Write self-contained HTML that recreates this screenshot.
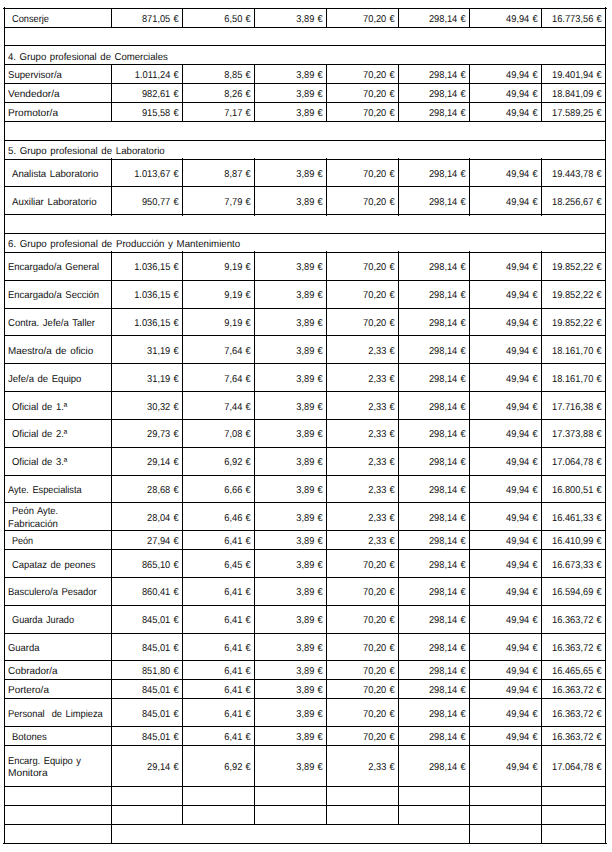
<!DOCTYPE html>
<html lang="es"><head><meta charset="utf-8"><title>Tabla salarial</title>
<style>
html,body{margin:0;padding:0;background:#fff;}
body{width:612px;height:852px;position:relative;overflow:hidden;font-family:"Liberation Sans",sans-serif;font-size:10.0px;color:#101010;text-rendering:geometricPrecision;}
.h,.v{position:absolute;background:#000;}
.h{height:1px;}
.v{width:1px;}
.t{position:absolute;white-space:pre;word-spacing:1px;line-height:12px;height:12px;transform-origin:0 50%;}
.r{text-align:right;word-spacing:0.7px;transform-origin:100% 50%;transform:scaleX(0.928);}
</style></head><body>

<div class="h" style="left:3px;top:8px;width:604px"></div>
<div class="h" style="left:4px;top:27px;width:602px"></div>
<div class="h" style="left:4px;top:45px;width:602px"></div>
<div class="h" style="left:4px;top:64px;width:602px"></div>
<div class="h" style="left:4px;top:83px;width:602px"></div>
<div class="h" style="left:4px;top:102px;width:602px"></div>
<div class="h" style="left:4px;top:121px;width:602px"></div>
<div class="h" style="left:4px;top:140px;width:602px"></div>
<div class="h" style="left:4px;top:159px;width:602px"></div>
<div class="h" style="left:4px;top:186px;width:602px"></div>
<div class="h" style="left:4px;top:214px;width:602px"></div>
<div class="h" style="left:4px;top:233px;width:602px"></div>
<div class="h" style="left:4px;top:252px;width:602px"></div>
<div class="h" style="left:4px;top:280px;width:602px"></div>
<div class="h" style="left:4px;top:308px;width:602px"></div>
<div class="h" style="left:4px;top:335px;width:602px"></div>
<div class="h" style="left:4px;top:363px;width:602px"></div>
<div class="h" style="left:4px;top:391px;width:602px"></div>
<div class="h" style="left:4px;top:419px;width:602px"></div>
<div class="h" style="left:4px;top:447px;width:602px"></div>
<div class="h" style="left:4px;top:475px;width:602px"></div>
<div class="h" style="left:4px;top:502px;width:602px"></div>
<div class="h" style="left:4px;top:530px;width:602px"></div>
<div class="h" style="left:4px;top:549px;width:602px"></div>
<div class="h" style="left:4px;top:577px;width:602px"></div>
<div class="h" style="left:4px;top:605px;width:602px"></div>
<div class="h" style="left:4px;top:633px;width:602px"></div>
<div class="h" style="left:4px;top:660px;width:602px"></div>
<div class="h" style="left:4px;top:679px;width:602px"></div>
<div class="h" style="left:4px;top:698px;width:602px"></div>
<div class="h" style="left:4px;top:726px;width:602px"></div>
<div class="h" style="left:4px;top:745px;width:602px"></div>
<div class="h" style="left:4px;top:786px;width:602px"></div>
<div class="h" style="left:4px;top:805px;width:602px"></div>
<div class="h" style="left:4px;top:824px;width:602px"></div>
<div class="h" style="left:3px;top:843px;width:604px"></div>
<div class="v" style="left:4px;top:7px;height:837px"></div>
<div class="v" style="left:605px;top:7px;height:837px"></div>
<div class="v" style="left:111px;top:8px;height:20px"></div>
<div class="v" style="left:111px;top:64px;height:58px"></div>
<div class="v" style="left:111px;top:158px;height:58px"></div>
<div class="v" style="left:111px;top:251px;height:593px"></div>
<div class="v" style="left:182px;top:8px;height:20px"></div>
<div class="v" style="left:182px;top:64px;height:58px"></div>
<div class="v" style="left:182px;top:158px;height:58px"></div>
<div class="v" style="left:182px;top:251px;height:574px"></div>
<div class="v" style="left:254px;top:8px;height:20px"></div>
<div class="v" style="left:254px;top:64px;height:58px"></div>
<div class="v" style="left:254px;top:158px;height:58px"></div>
<div class="v" style="left:254px;top:251px;height:574px"></div>
<div class="v" style="left:326px;top:8px;height:20px"></div>
<div class="v" style="left:326px;top:64px;height:58px"></div>
<div class="v" style="left:326px;top:158px;height:58px"></div>
<div class="v" style="left:326px;top:251px;height:574px"></div>
<div class="v" style="left:398px;top:8px;height:20px"></div>
<div class="v" style="left:398px;top:64px;height:58px"></div>
<div class="v" style="left:398px;top:158px;height:58px"></div>
<div class="v" style="left:398px;top:251px;height:574px"></div>
<div class="v" style="left:469px;top:8px;height:20px"></div>
<div class="v" style="left:469px;top:64px;height:58px"></div>
<div class="v" style="left:469px;top:158px;height:58px"></div>
<div class="v" style="left:469px;top:251px;height:593px"></div>
<div class="v" style="left:541px;top:8px;height:20px"></div>
<div class="v" style="left:541px;top:64px;height:58px"></div>
<div class="v" style="left:541px;top:158px;height:58px"></div>
<div class="v" style="left:541px;top:251px;height:593px"></div>
<div class="t" style="left:12.10px;top:14.00px;transform:scaleX(0.9228)">Conserje</div>
<div class="t r" style="left:111px;width:67.70px;top:14.00px">871,05 €</div>
<div class="t r" style="left:182px;width:68.70px;top:14.00px">6,50 €</div>
<div class="t r" style="left:254px;width:68.70px;top:14.00px">3,89 €</div>
<div class="t r" style="left:326px;width:68.70px;top:14.00px">70,20 €</div>
<div class="t r" style="left:398px;width:67.70px;top:14.00px">298,14 €</div>
<div class="t r" style="left:469px;width:68.70px;top:14.00px">49,94 €</div>
<div class="t r" style="left:541px;width:60.70px;top:14.00px">16.773,56 €</div>
<div class="t" style="left:8.30px;top:52.00px;transform:scaleX(0.9576)">4. Grupo profesional de Comerciales</div>
<div class="t" style="left:8.35px;top:70.00px;transform:scaleX(0.9602)">Supervisor/a</div>
<div class="t r" style="left:111px;width:67.70px;top:70.00px">1.011,24 €</div>
<div class="t r" style="left:182px;width:68.70px;top:70.00px">8,85 €</div>
<div class="t r" style="left:254px;width:68.70px;top:70.00px">3,89 €</div>
<div class="t r" style="left:326px;width:68.70px;top:70.00px">70,20 €</div>
<div class="t r" style="left:398px;width:67.70px;top:70.00px">298,14 €</div>
<div class="t r" style="left:469px;width:68.70px;top:70.00px">49,94 €</div>
<div class="t r" style="left:541px;width:60.70px;top:70.00px">19.401,94 €</div>
<div class="t" style="left:8.35px;top:89.00px;transform:scaleX(1.0076)">Vendedor/a</div>
<div class="t r" style="left:111px;width:67.70px;top:89.00px">982,61 €</div>
<div class="t r" style="left:182px;width:68.70px;top:89.00px">8,26 €</div>
<div class="t r" style="left:254px;width:68.70px;top:89.00px">3,89 €</div>
<div class="t r" style="left:326px;width:68.70px;top:89.00px">70,20 €</div>
<div class="t r" style="left:398px;width:67.70px;top:89.00px">298,14 €</div>
<div class="t r" style="left:469px;width:68.70px;top:89.00px">49,94 €</div>
<div class="t r" style="left:541px;width:60.70px;top:89.00px">18.841,09 €</div>
<div class="t" style="left:8.35px;top:108.00px;transform:scaleX(1.0121)">Promotor/a</div>
<div class="t r" style="left:111px;width:67.70px;top:108.00px">915,58 €</div>
<div class="t r" style="left:182px;width:68.70px;top:108.00px">7,17 €</div>
<div class="t r" style="left:254px;width:68.70px;top:108.00px">3,89 €</div>
<div class="t r" style="left:326px;width:68.70px;top:108.00px">70,20 €</div>
<div class="t r" style="left:398px;width:67.70px;top:108.00px">298,14 €</div>
<div class="t r" style="left:469px;width:68.70px;top:108.00px">49,94 €</div>
<div class="t r" style="left:541px;width:60.70px;top:108.00px">17.589,25 €</div>
<div class="t" style="left:8.30px;top:146.00px;transform:scaleX(0.9682)">5. Grupo profesional de Laboratorio</div>
<div class="t" style="left:12.10px;top:169.00px;transform:scaleX(0.9613)">Analista Laboratorio</div>
<div class="t r" style="left:111px;width:67.70px;top:169.00px">1.013,67 €</div>
<div class="t r" style="left:182px;width:68.70px;top:169.00px">8,87 €</div>
<div class="t r" style="left:254px;width:68.70px;top:169.00px">3,89 €</div>
<div class="t r" style="left:326px;width:68.70px;top:169.00px">70,20 €</div>
<div class="t r" style="left:398px;width:67.70px;top:169.00px">298,14 €</div>
<div class="t r" style="left:469px;width:68.70px;top:169.00px">49,94 €</div>
<div class="t r" style="left:541px;width:60.70px;top:169.00px">19.443,78 €</div>
<div class="t" style="left:12.10px;top:197.00px;transform:scaleX(0.9711)">Auxiliar Laboratorio</div>
<div class="t r" style="left:111px;width:67.70px;top:197.00px">950,77 €</div>
<div class="t r" style="left:182px;width:68.70px;top:197.00px">7,79 €</div>
<div class="t r" style="left:254px;width:68.70px;top:197.00px">3,89 €</div>
<div class="t r" style="left:326px;width:68.70px;top:197.00px">70,20 €</div>
<div class="t r" style="left:398px;width:67.70px;top:197.00px">298,14 €</div>
<div class="t r" style="left:469px;width:68.70px;top:197.00px">49,94 €</div>
<div class="t r" style="left:541px;width:60.70px;top:197.00px">18.256,67 €</div>
<div class="t" style="left:8.35px;top:239.00px;transform:scaleX(0.9697)">6. Grupo profesional de Producción y Mantenimiento</div>
<div class="t" style="left:8.35px;top:262.00px;transform:scaleX(0.9478)">Encargado/a General</div>
<div class="t r" style="left:111px;width:67.70px;top:262.00px">1.036,15 €</div>
<div class="t r" style="left:182px;width:68.70px;top:262.00px">9,19 €</div>
<div class="t r" style="left:254px;width:68.70px;top:262.00px">3,89 €</div>
<div class="t r" style="left:326px;width:68.70px;top:262.00px">70,20 €</div>
<div class="t r" style="left:398px;width:67.70px;top:262.00px">298,14 €</div>
<div class="t r" style="left:469px;width:68.70px;top:262.00px">49,94 €</div>
<div class="t r" style="left:541px;width:60.70px;top:262.00px">19.852,22 €</div>
<div class="t" style="left:8.35px;top:290.00px;transform:scaleX(0.9475)">Encargado/a Sección</div>
<div class="t r" style="left:111px;width:67.70px;top:290.00px">1.036,15 €</div>
<div class="t r" style="left:182px;width:68.70px;top:290.00px">9,19 €</div>
<div class="t r" style="left:254px;width:68.70px;top:290.00px">3,89 €</div>
<div class="t r" style="left:326px;width:68.70px;top:290.00px">70,20 €</div>
<div class="t r" style="left:398px;width:67.70px;top:290.00px">298,14 €</div>
<div class="t r" style="left:469px;width:68.70px;top:290.00px">49,94 €</div>
<div class="t r" style="left:541px;width:60.70px;top:290.00px">19.852,22 €</div>
<div class="t" style="left:8.35px;top:318.00px;transform:scaleX(0.9530)">Contra. Jefe/a Taller</div>
<div class="t r" style="left:111px;width:67.70px;top:318.00px">1.036,15 €</div>
<div class="t r" style="left:182px;width:68.70px;top:318.00px">9,19 €</div>
<div class="t r" style="left:254px;width:68.70px;top:318.00px">3,89 €</div>
<div class="t r" style="left:326px;width:68.70px;top:318.00px">70,20 €</div>
<div class="t r" style="left:398px;width:67.70px;top:318.00px">298,14 €</div>
<div class="t r" style="left:469px;width:68.70px;top:318.00px">49,94 €</div>
<div class="t r" style="left:541px;width:60.70px;top:318.00px">19.852,22 €</div>
<div class="t" style="left:8.35px;top:346.00px;transform:scaleX(0.9849)">Maestro/a de oficio</div>
<div class="t r" style="left:111px;width:67.70px;top:346.00px">31,19 €</div>
<div class="t r" style="left:182px;width:68.70px;top:346.00px">7,64 €</div>
<div class="t r" style="left:254px;width:68.70px;top:346.00px">3,89 €</div>
<div class="t r" style="left:326px;width:68.70px;top:346.00px">2,33 €</div>
<div class="t r" style="left:398px;width:67.70px;top:346.00px">298,14 €</div>
<div class="t r" style="left:469px;width:68.70px;top:346.00px">49,94 €</div>
<div class="t r" style="left:541px;width:60.70px;top:346.00px">18.161,70 €</div>
<div class="t" style="left:8.35px;top:374.00px;transform:scaleX(0.9526)">Jefe/a de Equipo</div>
<div class="t r" style="left:111px;width:67.70px;top:374.00px">31,19 €</div>
<div class="t r" style="left:182px;width:68.70px;top:374.00px">7,64 €</div>
<div class="t r" style="left:254px;width:68.70px;top:374.00px">3,89 €</div>
<div class="t r" style="left:326px;width:68.70px;top:374.00px">2,33 €</div>
<div class="t r" style="left:398px;width:67.70px;top:374.00px">298,14 €</div>
<div class="t r" style="left:469px;width:68.70px;top:374.00px">49,94 €</div>
<div class="t r" style="left:541px;width:60.70px;top:374.00px">18.161,70 €</div>
<div class="t" style="left:11.90px;top:402.00px;transform:scaleX(0.9456)">Oficial de 1.ª</div>
<div class="t r" style="left:111px;width:67.70px;top:402.00px">30,32 €</div>
<div class="t r" style="left:182px;width:68.70px;top:402.00px">7,44 €</div>
<div class="t r" style="left:254px;width:68.70px;top:402.00px">3,89 €</div>
<div class="t r" style="left:326px;width:68.70px;top:402.00px">2,33 €</div>
<div class="t r" style="left:398px;width:67.70px;top:402.00px">298,14 €</div>
<div class="t r" style="left:469px;width:68.70px;top:402.00px">49,94 €</div>
<div class="t r" style="left:541px;width:60.70px;top:402.00px">17.716,38 €</div>
<div class="t" style="left:11.90px;top:429.00px;transform:scaleX(0.9456)">Oficial de 2.ª</div>
<div class="t r" style="left:111px;width:67.70px;top:429.00px">29,73 €</div>
<div class="t r" style="left:182px;width:68.70px;top:429.00px">7,08 €</div>
<div class="t r" style="left:254px;width:68.70px;top:429.00px">3,89 €</div>
<div class="t r" style="left:326px;width:68.70px;top:429.00px">2,33 €</div>
<div class="t r" style="left:398px;width:67.70px;top:429.00px">298,14 €</div>
<div class="t r" style="left:469px;width:68.70px;top:429.00px">49,94 €</div>
<div class="t r" style="left:541px;width:60.70px;top:429.00px">17.373,88 €</div>
<div class="t" style="left:11.90px;top:457.00px;transform:scaleX(0.9456)">Oficial de 3.ª</div>
<div class="t r" style="left:111px;width:67.70px;top:457.00px">29,14 €</div>
<div class="t r" style="left:182px;width:68.70px;top:457.00px">6,92 €</div>
<div class="t r" style="left:254px;width:68.70px;top:457.00px">3,89 €</div>
<div class="t r" style="left:326px;width:68.70px;top:457.00px">2,33 €</div>
<div class="t r" style="left:398px;width:67.70px;top:457.00px">298,14 €</div>
<div class="t r" style="left:469px;width:68.70px;top:457.00px">49,94 €</div>
<div class="t r" style="left:541px;width:60.70px;top:457.00px">17.064,78 €</div>
<div class="t" style="left:8.35px;top:485.00px;transform:scaleX(0.9242)">Ayte. Especialista</div>
<div class="t r" style="left:111px;width:67.70px;top:485.00px">28,68 €</div>
<div class="t r" style="left:182px;width:68.70px;top:485.00px">6,66 €</div>
<div class="t r" style="left:254px;width:68.70px;top:485.00px">3,89 €</div>
<div class="t r" style="left:326px;width:68.70px;top:485.00px">2,33 €</div>
<div class="t r" style="left:398px;width:67.70px;top:485.00px">298,14 €</div>
<div class="t r" style="left:469px;width:68.70px;top:485.00px">49,94 €</div>
<div class="t r" style="left:541px;width:60.70px;top:485.00px">16.800,51 €</div>
<div class="t" style="left:12.10px;top:506.00px;transform:scaleX(0.9368)">Peón Ayte.</div>
<div class="t" style="left:8.35px;top:519.00px;transform:scaleX(0.9672)">Fabricación</div>
<div class="t r" style="left:111px;width:67.70px;top:513.00px">28,04 €</div>
<div class="t r" style="left:182px;width:68.70px;top:513.00px">6,46 €</div>
<div class="t r" style="left:254px;width:68.70px;top:513.00px">3,89 €</div>
<div class="t r" style="left:326px;width:68.70px;top:513.00px">2,33 €</div>
<div class="t r" style="left:398px;width:67.70px;top:513.00px">298,14 €</div>
<div class="t r" style="left:469px;width:68.70px;top:513.00px">49,94 €</div>
<div class="t r" style="left:541px;width:60.70px;top:513.00px">16.461,33 €</div>
<div class="t" style="left:12.10px;top:536.00px;transform:scaleX(0.9054)">Peón</div>
<div class="t r" style="left:111px;width:67.70px;top:536.00px">27,94 €</div>
<div class="t r" style="left:182px;width:68.70px;top:536.00px">6,41 €</div>
<div class="t r" style="left:254px;width:68.70px;top:536.00px">3,89 €</div>
<div class="t r" style="left:326px;width:68.70px;top:536.00px">2,33 €</div>
<div class="t r" style="left:398px;width:67.70px;top:536.00px">298,14 €</div>
<div class="t r" style="left:469px;width:68.70px;top:536.00px">49,94 €</div>
<div class="t r" style="left:541px;width:60.70px;top:536.00px">16.410,99 €</div>
<div class="t" style="left:12.10px;top:560.00px;transform:scaleX(0.9395)">Capataz de peones</div>
<div class="t r" style="left:111px;width:67.70px;top:560.00px">865,10 €</div>
<div class="t r" style="left:182px;width:68.70px;top:560.00px">6,45 €</div>
<div class="t r" style="left:254px;width:68.70px;top:560.00px">3,89 €</div>
<div class="t r" style="left:326px;width:68.70px;top:560.00px">70,20 €</div>
<div class="t r" style="left:398px;width:67.70px;top:560.00px">298,14 €</div>
<div class="t r" style="left:469px;width:68.70px;top:560.00px">49,94 €</div>
<div class="t r" style="left:541px;width:60.70px;top:560.00px">16.673,33 €</div>
<div class="t" style="left:8.35px;top:587.00px;transform:scaleX(0.9449)">Basculero/a Pesador</div>
<div class="t r" style="left:111px;width:67.70px;top:587.00px">860,41 €</div>
<div class="t r" style="left:182px;width:68.70px;top:587.00px">6,41 €</div>
<div class="t r" style="left:254px;width:68.70px;top:587.00px">3,89 €</div>
<div class="t r" style="left:326px;width:68.70px;top:587.00px">70,20 €</div>
<div class="t r" style="left:398px;width:67.70px;top:587.00px">298,14 €</div>
<div class="t r" style="left:469px;width:68.70px;top:587.00px">49,94 €</div>
<div class="t r" style="left:541px;width:60.70px;top:587.00px">16.594,69 €</div>
<div class="t" style="left:12.10px;top:615.00px;transform:scaleX(0.9163)">Guarda Jurado</div>
<div class="t r" style="left:111px;width:67.70px;top:615.00px">845,01 €</div>
<div class="t r" style="left:182px;width:68.70px;top:615.00px">6,41 €</div>
<div class="t r" style="left:254px;width:68.70px;top:615.00px">3,89 €</div>
<div class="t r" style="left:326px;width:68.70px;top:615.00px">70,20 €</div>
<div class="t r" style="left:398px;width:67.70px;top:615.00px">298,14 €</div>
<div class="t r" style="left:469px;width:68.70px;top:615.00px">49,94 €</div>
<div class="t r" style="left:541px;width:60.70px;top:615.00px">16.363,72 €</div>
<div class="t" style="left:8.35px;top:643.00px;transform:scaleX(0.9411)">Guarda</div>
<div class="t r" style="left:111px;width:67.70px;top:643.00px">845,01 €</div>
<div class="t r" style="left:182px;width:68.70px;top:643.00px">6,41 €</div>
<div class="t r" style="left:254px;width:68.70px;top:643.00px">3,89 €</div>
<div class="t r" style="left:326px;width:68.70px;top:643.00px">70,20 €</div>
<div class="t r" style="left:398px;width:67.70px;top:643.00px">298,14 €</div>
<div class="t r" style="left:469px;width:68.70px;top:643.00px">49,94 €</div>
<div class="t r" style="left:541px;width:60.70px;top:643.00px">16.363,72 €</div>
<div class="t" style="left:8.35px;top:666.00px;transform:scaleX(0.9888)">Cobrador/a</div>
<div class="t r" style="left:111px;width:67.70px;top:666.00px">851,80 €</div>
<div class="t r" style="left:182px;width:68.70px;top:666.00px">6,41 €</div>
<div class="t r" style="left:254px;width:68.70px;top:666.00px">3,89 €</div>
<div class="t r" style="left:326px;width:68.70px;top:666.00px">70,20 €</div>
<div class="t r" style="left:398px;width:67.70px;top:666.00px">298,14 €</div>
<div class="t r" style="left:469px;width:68.70px;top:666.00px">49,94 €</div>
<div class="t r" style="left:541px;width:60.70px;top:666.00px">16.465,65 €</div>
<div class="t" style="left:8.35px;top:685.00px;transform:scaleX(0.9946)">Portero/a</div>
<div class="t r" style="left:111px;width:67.70px;top:685.00px">845,01 €</div>
<div class="t r" style="left:182px;width:68.70px;top:685.00px">6,41 €</div>
<div class="t r" style="left:254px;width:68.70px;top:685.00px">3,89 €</div>
<div class="t r" style="left:326px;width:68.70px;top:685.00px">70,20 €</div>
<div class="t r" style="left:398px;width:67.70px;top:685.00px">298,14 €</div>
<div class="t r" style="left:469px;width:68.70px;top:685.00px">49,94 €</div>
<div class="t r" style="left:541px;width:60.70px;top:685.00px">16.363,72 €</div>
<div class="t" style="left:8.35px;top:709.00px;transform:scaleX(0.9294)">Personal  de Limpieza</div>
<div class="t r" style="left:111px;width:67.70px;top:709.00px">845,01 €</div>
<div class="t r" style="left:182px;width:68.70px;top:709.00px">6,41 €</div>
<div class="t r" style="left:254px;width:68.70px;top:709.00px">3,89 €</div>
<div class="t r" style="left:326px;width:68.70px;top:709.00px">70,20 €</div>
<div class="t r" style="left:398px;width:67.70px;top:709.00px">298,14 €</div>
<div class="t r" style="left:469px;width:68.70px;top:709.00px">49,94 €</div>
<div class="t r" style="left:541px;width:60.70px;top:709.00px">16.363,72 €</div>
<div class="t" style="left:12.10px;top:732.00px;transform:scaleX(0.9447)">Botones</div>
<div class="t r" style="left:111px;width:67.70px;top:732.00px">845,01 €</div>
<div class="t r" style="left:182px;width:68.70px;top:732.00px">6,41 €</div>
<div class="t r" style="left:254px;width:68.70px;top:732.00px">3,89 €</div>
<div class="t r" style="left:326px;width:68.70px;top:732.00px">70,20 €</div>
<div class="t r" style="left:398px;width:67.70px;top:732.00px">298,14 €</div>
<div class="t r" style="left:469px;width:68.70px;top:732.00px">49,94 €</div>
<div class="t r" style="left:541px;width:60.70px;top:732.00px">16.363,72 €</div>
<div class="t" style="left:8.20px;top:756.00px;transform:scaleX(0.9334)">Encarg. Equipo y</div>
<div class="t" style="left:8.20px;top:768.00px;transform:scaleX(1.0192)">Monitora</div>
<div class="t r" style="left:111px;width:67.70px;top:762.00px">29,14 €</div>
<div class="t r" style="left:182px;width:68.70px;top:762.00px">6,92 €</div>
<div class="t r" style="left:254px;width:68.70px;top:762.00px">3,89 €</div>
<div class="t r" style="left:326px;width:68.70px;top:762.00px">2,33 €</div>
<div class="t r" style="left:398px;width:67.70px;top:762.00px">298,14 €</div>
<div class="t r" style="left:469px;width:68.70px;top:762.00px">49,94 €</div>
<div class="t r" style="left:541px;width:60.70px;top:762.00px">17.064,78 €</div>

</body></html>
